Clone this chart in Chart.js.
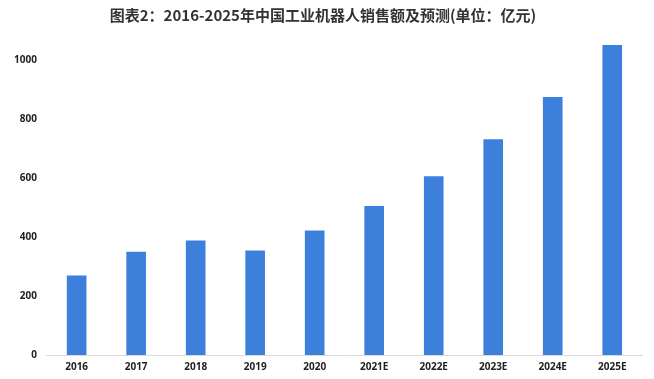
<!DOCTYPE html>
<html><head><meta charset="utf-8">
<script src="https://cdn.jsdelivr.net/npm/chart.js@4/dist/chart.umd.min.js"></script>
<style>html,body{margin:0;padding:0;background:#fff;}#wrap{width:654px;height:379px;position:relative;}</style>
</head><body><div id="wrap"><canvas id="c" width="654" height="379"></canvas></div>
<script>
const categories = ['2016','2017','2018','2019','2020','2021E','2022E','2023E','2024E','2025E'];
const sales = [269, 350, 388, 354, 422, 505, 605, 731, 874, 1050];
const yTicks = [0, 200, 400, 600, 800, 1000];
const titleText = '图表2：2016-2025年中国工业机器人销售额及预测(单位：亿元)';

new Chart(document.getElementById('c'), {
  type: 'bar',
  data: { labels: categories, datasets: [{ data: sales, backgroundColor: '#3d80dc', categoryPercentage: 1, barPercentage: 0.33 }] },
  options: {
    responsive: false, animation: false,
    layout: { padding: { left: 4, right: 12, top: 0, bottom: 0 } },
    plugins: {
      legend: { display: false }, tooltip: { enabled: false },
      title: { display: true, text: titleText, color: '#333', font: { family: 'Noto Sans CJK SC', size: 15, weight: 'bold' }, padding: { top: 6, bottom: 18 } }
    },
    scales: {
      x: {
        grid: { display: false, drawTicks: false },
        border: { display: true, color: '#d9d9d9' },
        ticks: { color: '#222', padding: 7, font: { family: 'Noto Sans', size: 10, weight: 'bold', lineHeight: 1 } }
      },
      y: {
        min: 0, max: 1060,
        afterBuildTicks: (axis) => { axis.ticks = yTicks.map(v => ({ value: v })); },
        grid: { display: false, drawTicks: false },
        border: { display: false },
        ticks: { color: '#222', padding: 10, callback: (v) => String(v), font: { family: 'Noto Sans', size: 10, weight: 'bold' } }
      }
    }
  }
});
</script></body></html>
